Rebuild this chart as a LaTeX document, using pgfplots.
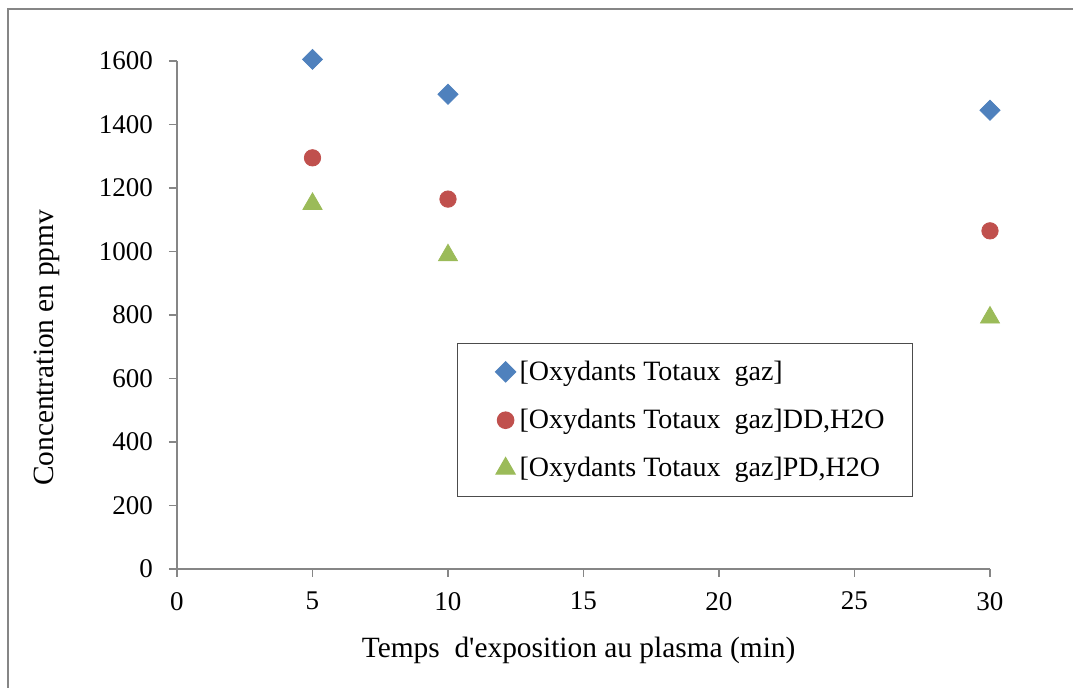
\documentclass[border=0pt]{standalone}
\usepackage{pgfplots}
\pgfplotsset{compat=1.18}
\usepackage{fontspec}
\setmainfont{Liberation Serif}
\definecolor{sblue}{HTML}{4F81BD}
\definecolor{sred}{HTML}{C0504D}
\definecolor{sgreen}{HTML}{9BBB59}
\definecolor{axgray}{HTML}{868686}
\begin{document}
\begin{tikzpicture}
\begin{axis}[
  at={(0pt,0pt)}, anchor=origin,
  scale only axis, width=406.5pt, height=254pt,
  xmin=0, xmax=30, ymin=0, ymax=1600, clip=false,
  xtick={0,5,...,30}, ytick={0,200,...,1600},
  axis x line*=bottom, axis y line*=left,
  axis line style={-, axgray, line width=0.75pt},
  tick style={axgray, line width=0.75pt},
  tick align=outside, major tick length=4pt,
  /pgf/number format/assume math mode=true,
  /pgf/number format/set thousands separator={},
  ticklabel style={font=\fontsize{13.5}{15}\selectfont},
  yticklabel style={xshift=-4.5pt},
  xticklabel style={yshift=-4pt},
  label style={font=\fontsize{14.7}{16}\selectfont},
  xlabel={Temps~ d\textquotesingle exposition au plasma (min)},
  ylabel={Concentration en ppmv},
  xlabel style={at={(axis description cs:0.494,-0.161)}, anchor=center},
  ylabel style={at={(axis description cs:-0.16,0.435)}, anchor=center},
  legend style={at={(axis description cs:0.3444,0.4449)}, anchor=north west,
    draw=black!70, line width=0.6pt, font=\fontsize{14}{15.5}\selectfont,
    inner xsep=12pt, inner ysep=6.5pt, row sep=9pt},
  legend cell align=left,
  legend image code/.code={\path[draw=none,fill=none] (0pt,-3pt) rectangle (15.5pt,3pt); \draw[#1] plot coordinates {(12pt,0pt)};},
]
\addplot[only marks, mark=square*, mark size=3.54pt, mark options={rotate=45, fill=sblue, draw=sblue}] coordinates {(5,1605) (10,1495) (30,1445)};
\addlegendentry{[Oxydants Totaux~ gaz]}
\addplot[only marks, mark=*, mark size=4.1pt, mark options={fill=sred, draw=sred}] coordinates {(5,1295) (10,1165) (30,1065)};
\addlegendentry{[Oxydants Totaux~ gaz]DD,H2O}
\addplot[only marks, mark=triangle*, mark size=5.5pt, mark options={fill=sgreen, draw=sgreen}] coordinates {(5,1150) (10,988) (30,792)};
\addlegendentry{[Oxydants Totaux~ gaz]PD,H2O}
\end{axis}
\draw[axgray, line width=1pt] (-84.5pt,-59.5pt) -- (-84.5pt,280pt) -- (448pt,280pt);
\pgfresetboundingbox
\path[use as bounding box] (-88.5pt,-59.5pt) rectangle (448pt,284.5pt);
\end{tikzpicture}
\end{document}
